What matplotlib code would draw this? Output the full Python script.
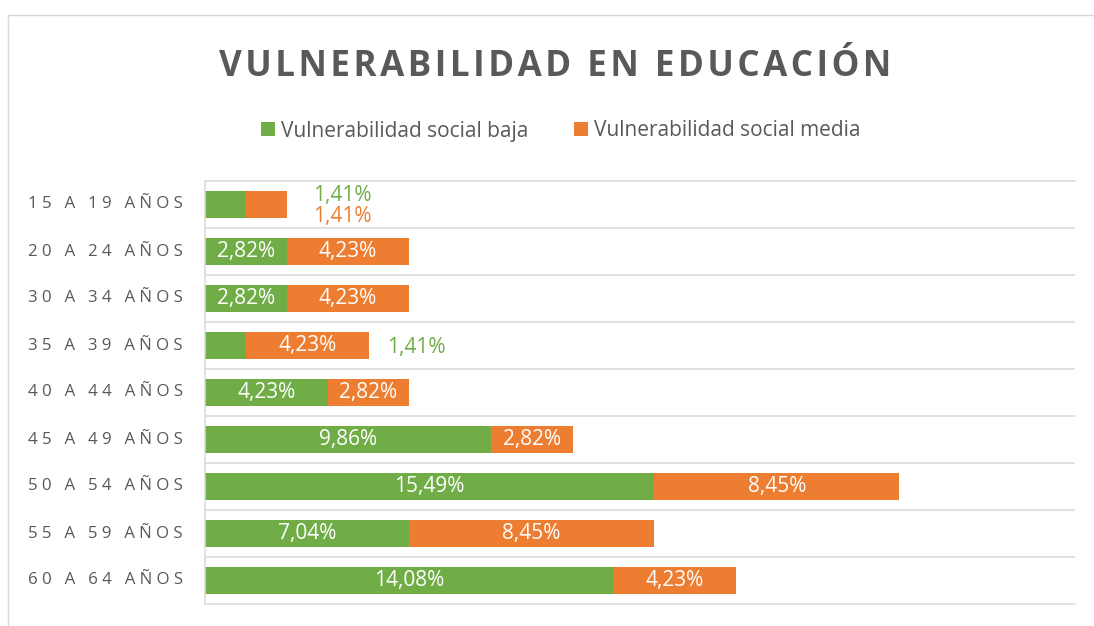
import matplotlib
matplotlib.use('Agg')
import matplotlib.pyplot as plt
import matplotlib.transforms as mtransforms
from matplotlib.patches import Rectangle, Patch

# ---- data ----
title = "VULNERABILIDAD EN EDUCACIÓN"
categories = ["15 A 19 AÑOS", "20 A 24 AÑOS", "30 A 34 AÑOS", "35 A 39 AÑOS",
              "40 A 44 AÑOS", "45 A 49 AÑOS", "50 A 54 AÑOS", "55 A 59 AÑOS",
              "60 A 64 AÑOS"]
series_names = ["Vulnerabilidad social baja", "Vulnerabilidad social media"]
baja = [1.41, 2.82, 2.82, 1.41, 4.23, 9.86, 15.49, 7.04, 14.08]
media = [1.41, 4.23, 4.23, 4.23, 2.82, 2.82, 8.45, 8.45, 4.23]

# ---- style ----
GREEN = "#70AD47"
ORANGE = "#ED7D31"
TXT = "#595959"
GRID = "#d9d9d9"
plt.rcParams['font.family'] = ['Open Sans', 'DejaVu Sans']

W, H = 1094, 626
fig = plt.figure(figsize=(W / 100, H / 100), dpi=100)

# outer chart border
fig.patches.append(Rectangle((8 / W, -0.05), 1.2, 1 - 15 / H + 0.05,
                             transform=fig.transFigure, fill=False,
                             edgecolor=GRID, lw=1.0))

ax = fig.add_axes([205 / W, 22 / H, 870 / W, 423 / H])
y = list(range(len(categories)))
bh = 0.56
c1 = ax.barh(y, baja, height=bh, color=GREEN, linewidth=0)
c2 = ax.barh(y, media, left=baja, height=bh, color=ORANGE, linewidth=0)

ax.set_xlim(0, 30)
ax.set_ylim(len(categories) - 0.5, -0.5)

# grid lines between categories
ax.set_yticks([i + 0.5 for i in range(len(categories) - 1)], minor=True)
ax.grid(which='minor', axis='y', color=GRID, lw=1.1)
ax.set_axisbelow(True)
ax.tick_params(which='both', left=False, bottom=False, labelleft=False,
               labelbottom=False)
ax.spines['right'].set_visible(False)
for s in ['left', 'top', 'bottom']:
    ax.spines[s].set_color(GRID)
    ax.spines[s].set_linewidth(1.1)

# letter-spaced text helper
def spaced(s, sp):
    return sp.join(list(s))

trans = mtransforms.blended_transform_factory(ax.transAxes, ax.transData)
for i, cat in enumerate(categories):
    ax.text(-22 / 870, i, spaced(cat, "\u2005"), transform=trans, ha='right',
            va='center', fontsize=12.2, color=TXT)

def fmt(v):
    return f"{v:.2f}".replace('.', ',') + "%"

# data labels
small = 2.0
ax.bar_label(c1, labels=[fmt(v) if v > small else "" for v in baja],
             label_type='center', color='white', fontsize=15)
ax.bar_label(c2, labels=[fmt(v) if v > small else "" for v in media],
             label_type='center', color='white', fontsize=15)

# outside labels for narrow segments
outside = {  # (row, series): offset in px (dx, dy) from bar end
    (0, 0): (56, 9),
    (0, 1): (56, -12),
    (3, 0): (48, -2),
}
for (row, si), (dx, dy) in outside.items():
    val = baja[row] if si == 0 else media[row]
    end = baja[row] + media[row]
    ax.annotate(fmt(val), xy=(end, row), xytext=(dx * 0.72, dy * 0.72),
                textcoords='offset points', ha='center', va='center',
                color=GREEN if si == 0 else ORANGE, fontsize=15)

# title
fig.text(555 / W, 1 - 76 / H, spaced(title, "\u200a"), ha='center',
         va='baseline', fontsize=25.2, fontweight='bold', color=TXT)

# legend
handles = [Patch(facecolor=GREEN, linewidth=0, label=series_names[0]),
           Patch(facecolor=ORANGE, linewidth=0, label=series_names[1])]
fig.legend(handles=handles, loc='center', bbox_to_anchor=(561 / W, 1 - 131 / H),
           ncol=2, frameon=False, fontsize=15, handlelength=0.65,
           handleheight=0.65, handletextpad=0.3, columnspacing=2.2,
           labelcolor=TXT, borderpad=0, borderaxespad=0)

fig.savefig("out.png", dpi=100)
